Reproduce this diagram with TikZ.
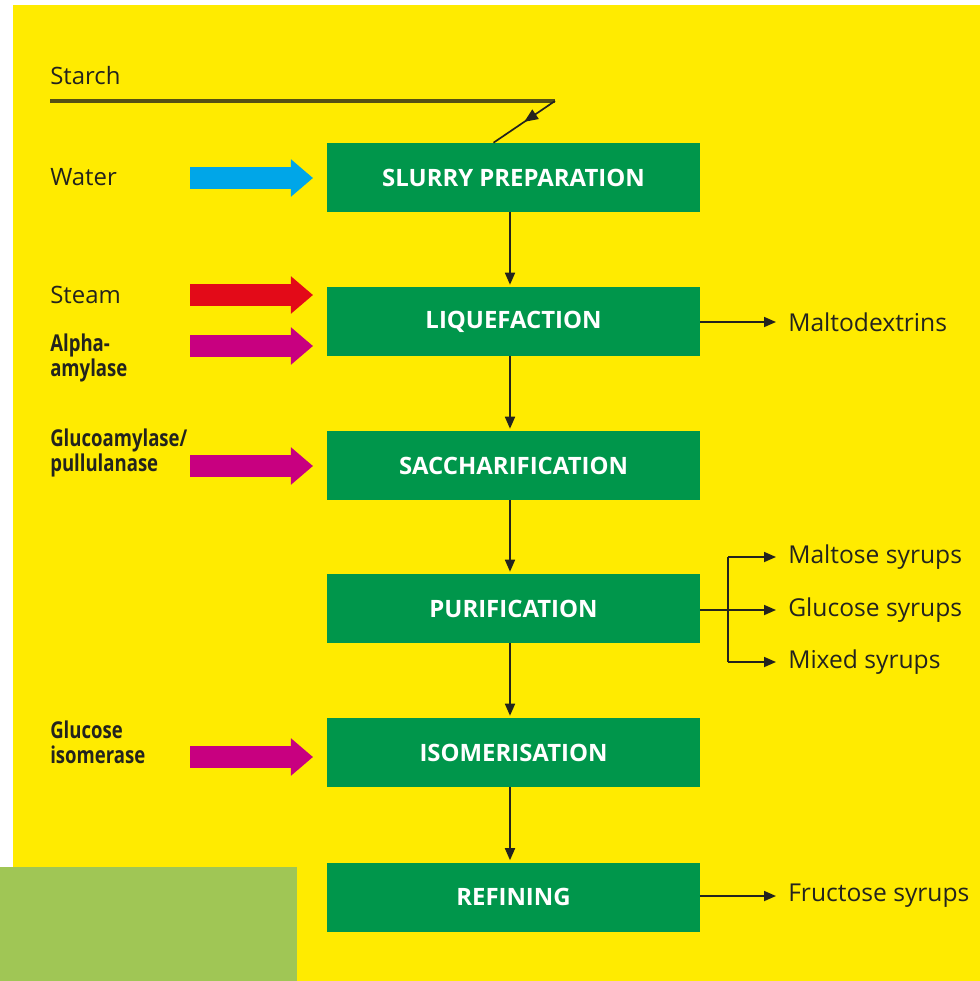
\documentclass[tikz,border=0pt]{standalone}
\usepackage{fontspec}
\setmainfont{Open Sans}
\newfontfamily\narrowbold[FakeStretch=0.8]{Open Sans Bold}
\usepackage{tikz}
\usetikzlibrary{arrows.meta,positioning,calc,decorations.markings}
\definecolor{bgyellow}{RGB}{255,235,0}
\definecolor{boxgreen}{RGB}{0,150,75}
\definecolor{leafgreen}{RGB}{160,198,85}
\definecolor{waterblue}{RGB}{0,166,232}
\definecolor{steamred}{RGB}{227,10,24}
\definecolor{enzymepink}{RGB}{200,0,128}
\definecolor{inkdark}{RGB}{35,35,30}
\definecolor{starchline}{RGB}{85,80,20}
\tikzset{
  stepbox/.style={fill=boxgreen,text=white,font=\fontsize{17}{18}\selectfont\bfseries,
    minimum width=9.325cm,minimum height=1.725cm,inner sep=0pt},
  flow/.style={draw=inkdark,line width=1.2pt,-{Triangle[length=0.3cm,width=0.25cm]}},
  feed/.style={line width=0.55cm,-{Triangle[length=0.55cm,width=0.9cm]}},
  inlabel/.style={anchor=west,text=inkdark,align=left,inner sep=0pt,
    font=\fontsize{17}{17.5}\selectfont},
  enzlabel/.style={inlabel,font=\fontsize{16.5}{17.5}\selectfont\narrowbold},
  outlabel/.style={anchor=west,text=inkdark,inner sep=0pt,font=\fontsize{17.5}{18}\selectfont},
  midarrow/.style={postaction={decorate},decoration={markings,
    mark=at position 0.5 with {\arrow{Triangle[length=0.34cm,width=0.28cm]}}}}
}
\newcommand{\feedarrow}[3]{\draw[feed,#1] (190,#2) -- (#3);}

\begin{document}
\begin{tikzpicture}[x=0.025cm,y=-0.025cm]
\useasboundingbox (0,0) rectangle (980,981);
\fill[white] (0,0) rectangle (980,981);
\fill[bgyellow] (13,5) rectangle (980,981);
\fill[leafgreen] (0,867) rectangle (297,981);
% process steps
\node[stepbox] (slurry) at (513.5,177.5) {SLURRY PREPARATION};
\node[stepbox] (liq) at (513.5,321.5) {LIQUEFACTION};
\node[stepbox] (sacch) at (513.5,465.5) {SACCHARIFICATION};
\node[stepbox] (purif) at (513.5,608.5) {PURIFICATION};
\node[stepbox] (isom) at (513.5,752.5) {ISOMERISATION};
\node[stepbox] (refin) at (513.5,897) {REFINING};
\foreach \a/\b in {slurry/liq,liq/sacch,sacch/purif,purif/isom,isom/refin}
  \draw[flow] ($(\a.south)+(-3.5,0)$) -- ($(\b.north)+(-3.5,-2)$);
% starch feed
\node[inlabel] (starch) at (50,76) {Starch};
\coordinate (starchstart) at (50,101);
\coordinate (starchbend) at (555,101);
\draw[starchline,line width=2.2pt] (starchstart) -- (starchbend);
\draw[inkdark,line width=1.2pt,midarrow] (starchbend) -- ($(slurry.north)+(-20,0)$);
% feeds
\node[inlabel] (water) at (50,177) {Water};
\node[inlabel] (steam) at (50,295) {Steam};
\node[enzlabel] (alpha) at (50,358) {Alpha-\\amylase};
\node[enzlabel] (gluco) at (50,453) {Glucoamylase/\\pullulanase};
\node[enzlabel] (giso) at (50,742) {Glucose\\isomerase};
\feedarrow{waterblue}{178}{313,178}
\feedarrow{steamred}{295}{313,295}
\feedarrow{enzymepink}{346}{313,346}
\feedarrow{enzymepink}{466}{313,466}
\feedarrow{enzymepink}{757}{313,757}
% products
\node[outlabel] (malto) at (788,322) {Maltodextrins};
\node[outlabel] (maltose) at (788,557) {Maltose syrups};
\node[outlabel] (glucose) at (788,610) {Glucose syrups};
\node[outlabel] (mixed) at (788,662) {Mixed syrups};
\node[outlabel] (fructose) at (788,896) {Fructose syrups};
\draw[flow] (liq.east |- malto) -- ($(malto.west)+(-12,0)$);
\draw[flow] (refin.east |- fructose) -- ($(fructose.west)+(-12,0)$);
\coordinate (split) at (728,610);
\draw[inkdark,line width=1.2pt] (purif.east |- split) -- (split);
\draw[flow] (split |- maltose) -- ($(maltose.west)+(-12,0)$);
\draw[flow] (split) -- ($(glucose.west)+(-12,0)$);
\draw[flow] (split |- mixed) -- ($(mixed.west)+(-12,0)$);
\draw[inkdark,line width=1.2pt] (split |- maltose) -- (split |- mixed);
\end{tikzpicture}
\end{document}
